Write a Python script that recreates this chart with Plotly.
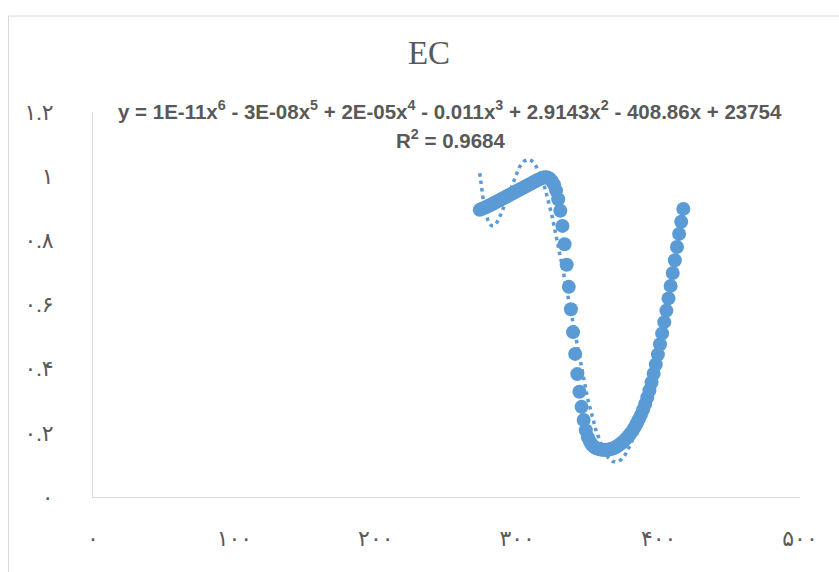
import numpy as np
import plotly.graph_objects as go

# ---- data ----
x_vals = [273.5, 275.0, 276.5, 278.0, 279.5, 281.0, 282.5, 284.0, 285.5, 287.0,
          288.5, 290.0, 291.5, 293.0, 294.5, 296.0, 297.5, 299.0, 300.5, 302.0,
          303.5, 305.0, 306.5, 308.0, 309.5, 311.0, 312.5, 314.0, 315.5, 317.0,
          318.5, 320.0, 321.5, 323.0, 324.5, 326.0, 327.5, 329.0, 330.5, 332.0,
          333.5, 335.0, 336.5, 338.0, 339.5, 341.0, 342.5, 344.0, 345.5, 347.0,
          348.5, 350.0, 351.5, 353.0, 354.5, 356.0, 357.5, 359.0, 360.5, 362.0,
          363.5, 365.0, 366.5, 368.0, 369.5, 371.0, 372.5, 374.0, 375.5, 377.0,
          378.5, 380.0, 381.5, 383.0, 384.5, 386.0, 387.5, 389.0, 390.5, 392.0,
          393.5, 395.0, 396.5, 398.0, 399.5, 401.0, 402.5, 404.0, 405.5, 407.0,
          408.5, 410.0, 411.5, 413.0, 414.5, 416.0, 417.5]
ec_vals = [0.895, 0.898, 0.901, 0.904, 0.907, 0.910, 0.913, 0.917, 0.920, 0.924,
           0.927, 0.931, 0.934, 0.938, 0.941, 0.945, 0.948, 0.952, 0.955, 0.959,
           0.962, 0.966, 0.969, 0.973, 0.976, 0.980, 0.983, 0.987, 0.990, 0.993,
           0.996, 0.997, 0.996, 0.992, 0.985, 0.974, 0.955, 0.928, 0.892, 0.845,
           0.788, 0.724, 0.655, 0.585, 0.514, 0.446, 0.383, 0.328, 0.281, 0.240,
           0.208, 0.186, 0.172, 0.162, 0.156, 0.152, 0.150, 0.148, 0.147, 0.147,
           0.147, 0.148, 0.150, 0.152, 0.155, 0.159, 0.164, 0.169, 0.175, 0.182,
           0.189, 0.197, 0.206, 0.217, 0.229, 0.242, 0.256, 0.272, 0.290, 0.310,
           0.332, 0.357, 0.384, 0.413, 0.444, 0.476, 0.510, 0.545, 0.581, 0.619,
           0.658, 0.698, 0.738, 0.779, 0.820, 0.858, 0.898]

x_tick_vals = [0, 100, 200, 300, 400, 500]
x_tick_text = ["۰", "۱۰۰", "۲۰۰", "۳۰۰", "۴۰۰", "۵۰۰"]
y_tick_vals = [0, 0.2, 0.4, 0.6, 0.8, 1.0, 1.2]
y_tick_text = ["۰", "۰.۲", "۰.۴", "۰.۶", "۰.۸", "۱", "۱.۲"]

title_text = "EC"
equation_text = ("y = 1E-11x<sup>6</sup> - 3E-08x<sup>5</sup> + 2E-05x<sup>4</sup> - 0.011x<sup>3</sup>"
                 " + 2.9143x<sup>2</sup> - 408.86x + 23754")
r2_text = "R<sup>2</sup> = 0.9684"

# ---- polynomial (order 6) trendline fitted to the data ----
poly = np.polynomial.Polynomial.fit(np.array(x_vals), np.array(ec_vals), 6)
trend_x = np.linspace(min(x_vals), max(x_vals), 400)
trend_y = poly(trend_x)

blue = "#5B9BD5"
grey = "#595959"

fig = go.Figure()
fig.add_trace(go.Scatter(
    x=x_vals, y=ec_vals, mode="markers",
    marker=dict(color=blue, size=14, line=dict(width=0)),
    showlegend=False, hoverinfo="x+y"))
fig.add_trace(go.Scatter(
    x=trend_x, y=trend_y, mode="lines",
    line=dict(color=blue, width=3.5, dash="3.5px,4px"),
    showlegend=False, hoverinfo="skip"))

tick_font = dict(family="Liberation Serif, DejaVu Sans, serif", size=22, color=grey)
eq_font = dict(family="Liberation Sans, Arial, sans-serif", size=20.5, color=grey, weight="bold")

fig.update_layout(
    width=839, height=572,
    margin=dict(l=93, r=39, t=112, b=75),
    paper_bgcolor="white", plot_bgcolor="white",
    title=dict(text=title_text, x=429 / 839, xref="container", xanchor="center",
               y=1 - 52 / 572, yref="container", yanchor="middle",
               font=dict(family="Liberation Serif, Times New Roman, serif", size=33, color=grey)),
    xaxis=dict(range=[0, 500], tickvals=x_tick_vals, ticktext=x_tick_text,
               showgrid=False, zeroline=False, showline=True, linecolor="#d9d9d9", linewidth=1,
               ticks="", tickfont=tick_font, ticklabelstandoff=22),
    yaxis=dict(range=[0, 1.2], tickvals=y_tick_vals, ticktext=y_tick_text,
               showgrid=False, zeroline=False, showline=True, linecolor="#d9d9d9", linewidth=1,
               ticks="", tickfont=tick_font, ticklabelstandoff=34),
    annotations=[
        dict(text=equation_text, xref="paper", yref="paper", x=(450 - 93) / 707, y=(497 - 110) / 385,
             xanchor="center", yanchor="middle", showarrow=False, font=eq_font),
        dict(text=r2_text, xref="paper", yref="paper", x=(450 - 93) / 707, y=(497 - 139) / 385,
             xanchor="center", yanchor="middle", showarrow=False, font=eq_font),
    ],
    shapes=[dict(type="rect", xref="paper", yref="paper",
                 x0=(8.5 - 93) / 707, x1=(850 - 93) / 707,
                 y0=(497 - 590) / 385, y1=(497 - 16) / 385,
                 line=dict(color="#d9d9d9", width=1), fillcolor="rgba(0,0,0,0)", layer="below")],
)

fig.write_html("out.html")
